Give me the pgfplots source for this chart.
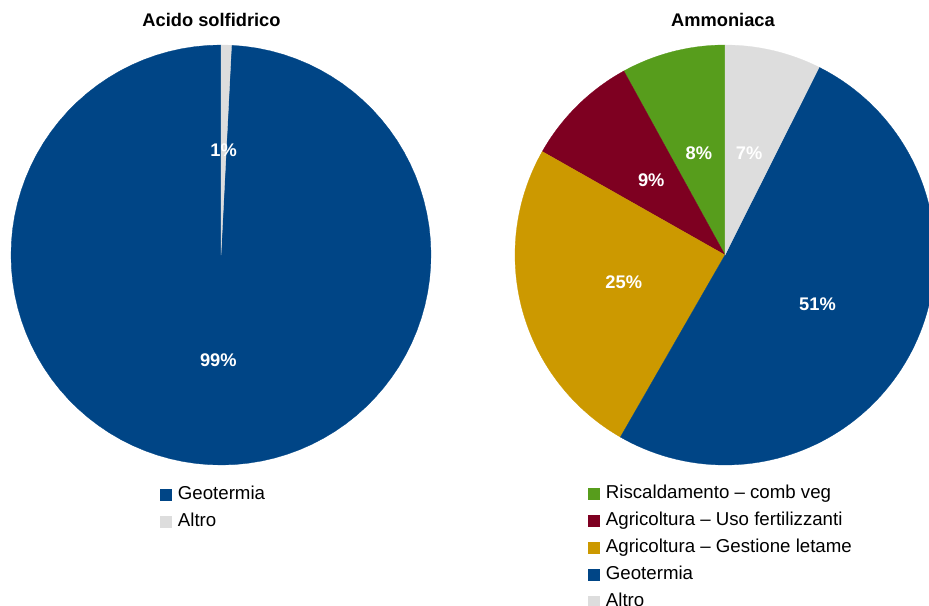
\documentclass[border=0pt]{standalone}
\usepackage{pgfplots}
\pgfplotsset{compat=1.18}
\usepackage{fontspec}
\setmainfont{Liberation Sans}
\definecolor{cBlue}{HTML}{004586}
\definecolor{cGray}{HTML}{DDDDDD}
\definecolor{cGold}{HTML}{CC9900}
\definecolor{cRed}{HTML}{7E0021}
\definecolor{cGreen}{HTML}{579D1C}
\pgfplotsset{
  pieaxis/.style={at={(0pt,0pt)}, anchor=south west, scale only axis,
    width=696.75pt, height=454.5pt, xmin=0, xmax=929, ymin=0, ymax=606,
    y dir=reverse, hide axis, clip=false,
    legend cell align=left,
    legend style={draw=none, fill=none, inner sep=0pt, outer sep=0pt,
      row sep=7.25pt, column sep=5pt, font=\fontsize{14}{16}\selectfont,
      nodes={inner sep=0pt, text height=10pt, text depth=3pt}},
    legend image code/.code={\fill[##1] (0pt,-4.1pt) rectangle (8.25pt,4.1pt);},
  },
  slice/.style={draw=#1, fill=#1, line width=0.2pt, samples=100, variable=\t},
}
\tikzset{
  lbl/.style={text=white, font=\fontsize{13.7}{16}\selectfont\bfseries},
  ttl/.style={text=black, font=\fontsize{13.7}{16}\selectfont\bfseries},
}
\begin{document}
\begin{tikzpicture}
\useasboundingbox (0,0) rectangle (696.75pt,454.5pt);
\clip (0,0) rectangle (696.75pt,454.5pt);
% ---------------- Acido solfidrico: Altro 0.8, Geotermia 99.2 (percent, clockwise from top)
\begin{axis}[pieaxis, legend style={at={(axis cs:160,486)}, anchor=north west}]
\addplot[slice=cBlue, domain=-90+3.6*0.8:-90+3.6*100] ({221+210*cos(t)},{255+210*sin(t)}) -- (221,255) -- cycle;
\addlegendentry{Geotermia}
\addplot[slice=cGray, domain=-90:-90+3.6*0.8] ({221+210*cos(t)},{255+210*sin(t)}) -- (221,255) -- cycle;
\addlegendentry{Altro}
\node[lbl] at ({221+105*cos(-90+3.6*0.4)},{255+105*sin(-90+3.6*0.4)}) {1\%};
\node[lbl] at ({221+105*cos(-90+3.6*50.4)},{255+105*sin(-90+3.6*50.4)}) {99\%};
\node[ttl] at (211.5,20) {Acido solfidrico};
\end{axis}
% ---------------- Ammoniaca: Altro 7.4, Geotermia 50.9, Gestione letame 24.9, Uso fertilizzanti 8.8, Riscaldamento 8.0
\begin{axis}[pieaxis, legend style={at={(axis cs:588,485)}, anchor=north west}]
\addplot[slice=cGreen, domain=-90+3.6*92.0:-90+3.6*100] ({725+210*cos(t)},{255+210*sin(t)}) -- (725,255) -- cycle;
\addlegendentry{Riscaldamento – comb veg}
\addplot[slice=cRed, domain=-90+3.6*83.2:-90+3.6*92.0] ({725+210*cos(t)},{255+210*sin(t)}) -- (725,255) -- cycle;
\addlegendentry{Agricoltura – Uso fertilizzanti}
\addplot[slice=cGold, domain=-90+3.6*58.3:-90+3.6*83.2] ({725+210*cos(t)},{255+210*sin(t)}) -- (725,255) -- cycle;
\addlegendentry{Agricoltura – Gestione letame}
\addplot[slice=cBlue, domain=-90+3.6*7.4:-90+3.6*58.3] ({725+210*cos(t)},{255+210*sin(t)}) -- (725,255) -- cycle;
\addlegendentry{Geotermia}
\addplot[slice=cGray, domain=-90:-90+3.6*7.4] ({725+210*cos(t)},{255+210*sin(t)}) -- (725,255) -- cycle;
\addlegendentry{Altro}
\node[lbl] at ({725+105*cos(-90+3.6*3.7)},{255+105*sin(-90+3.6*3.7)}) {7\%};
\node[lbl] at ({725+105*cos(-90+3.6*32.85)},{255+105*sin(-90+3.6*32.85)}) {51\%};
\node[lbl] at ({725+105*cos(-90+3.6*70.75)},{255+105*sin(-90+3.6*70.75)}) {25\%};
\node[lbl] at ({725+105*cos(-90+3.6*87.6)},{255+105*sin(-90+3.6*87.6)}) {9\%};
\node[lbl] at ({725+105*cos(-90+3.6*96.0)},{255+105*sin(-90+3.6*96.0)}) {8\%};
\node[ttl] at (723,20) {Ammoniaca};
\end{axis}
\end{tikzpicture}
\end{document}
